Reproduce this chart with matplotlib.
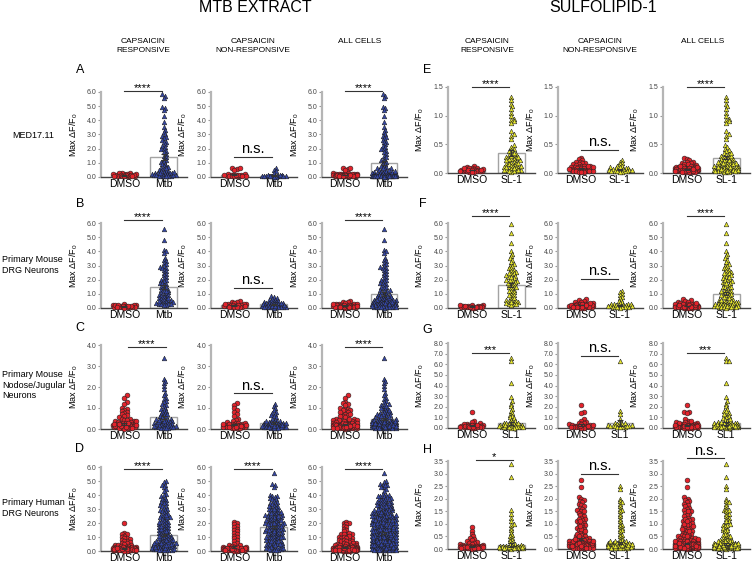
import matplotlib
matplotlib.use("Agg")
import matplotlib.pyplot as plt
import numpy as np

plt.rcParams['font.family'] = ['Liberation Sans', 'DejaVu Sans']
plt.rcParams['mathtext.fontset'] = 'custom'
plt.rcParams['mathtext.rm'] = 'Liberation Sans'
plt.rcParams['mathtext.it'] = 'Liberation Sans:italic'

# ---------------- data ----------------
# MTB extract, row A (MED17.11)
a1_dmso = [0.05, 0.08, 0.10, 0.12, 0.15, 0.18, 0.22, 0.25, 0.28, 0.30, 0.12, 0.09, 0.14, 0.06, 0.2, 0.17,
           0.11, 0.07, 0.13, 0.16, 0.04, 0.19, 0.1, 0.08]
a1_mtb = [5.85, 5.75, 5.6, 4.95, 4.85, 4.7, 4.3, 3.85, 3.5, 3.3, 3.15, 3.0, 2.9, 2.85, 2.75, 2.6, 2.5, 2.45,
          2.3, 2.2, 2.1, 2.0, 1.95, 1.85, 1.75, 1.6, 1.5, 1.4, 1.3, 1.2, 1.1, 1.05, 0.95, 0.9, 0.8, 0.75,
          0.7, 0.6, 0.55, 0.5, 0.45, 0.4, 0.35, 0.3, 0.28, 0.25, 0.22, 0.2, 0.18, 0.15, 0.12, 0.1, 0.08,
          0.06, 0.05, 0.3, 0.2, 0.15, 0.1, 0.4, 0.05, 0.12, 0.25, 0.6, 0.35]
a2_dmso = [0.6, 0.55, 0.62, 0.5, 0.2, 0.15, 0.12, 0.1, 0.08, 0.1, 0.14, 0.18, 0.06, 0.09, 0.11, 0.13, 0.07,
           0.05, 0.12, 0.1]
a2_mtb = [0.6, 0.5, 0.4, 0.3, 0.15, 0.1, 0.08, 0.06, 0.05, 0.04, 0.1, 0.12, 0.07, 0.09, 0.03, 0.05, 0.08,
          0.11, 0.06, 0.04, 0.02, 0.1]
a3_dmso = a1_dmso + a2_dmso
a3_mtb = a1_mtb + a2_mtb

# row B (primary mouse DRG)
b1_dmso = [0.25, 0.22, 0.2, 0.18, 0.15, 0.12, 0.1, 0.08, 0.06, 0.05, 0.15, 0.12, 0.1, 0.08, 0.2, 0.05, 0.03,
           0.18, 0.14, 0.09]
b1_mtb = [5.6, 4.8, 4.1, 4.0, 3.9, 3.55, 3.4, 3.3, 3.2, 3.1, 3.0, 2.9, 2.85, 2.8, 2.7, 2.6, 2.5, 2.4, 2.3,
          2.2, 2.1, 2.0, 1.95, 1.9, 1.8, 1.75, 1.7, 1.6, 1.5, 1.45, 1.4, 1.3, 1.25, 1.2, 1.1, 1.05, 1.0,
          0.95, 0.9, 0.85, 0.8, 0.75, 0.7, 0.65, 0.6, 0.55, 0.5, 0.45, 0.4, 0.38, 0.35, 0.3, 0.28, 0.25,
          0.22, 0.2, 0.5, 0.6, 0.4, 0.3, 1.2, 0.9, 0.7]
b2_dmso = [0.5, 0.45, 0.4, 0.35, 0.3, 0.28, 0.25, 0.22, 0.2, 0.18, 0.15, 0.12, 0.1, 0.08, 0.06, 0.05, 0.2,
           0.15, 0.1, 0.3, 0.12, 0.05]
b2_mtb = [0.85, 0.8, 0.72, 0.65, 0.6, 0.55, 0.5, 0.48, 0.45, 0.42, 0.4, 0.38, 0.35, 0.32, 0.3, 0.28, 0.25,
          0.22, 0.2, 0.18, 0.16, 0.15, 0.14, 0.12, 0.1, 0.09, 0.08, 0.07, 0.06, 0.05, 0.04, 0.03, 0.2,
          0.25, 0.3, 0.15, 0.1, 0.35, 0.05, 0.12]
b3_dmso = b1_dmso + b2_dmso
b3_mtb = b1_mtb + b2_mtb

# row C (primary mouse nodose/jugular)
c1_dmso = [1.6, 1.5, 1.3, 1.2, 1.0, 0.95, 0.9, 0.85, 0.8, 0.75, 0.7, 0.65, 0.6, 0.55, 0.5, 0.5, 0.45, 0.45,
           0.4, 0.4, 0.35, 0.35, 0.3, 0.3, 0.3, 0.25, 0.25, 0.25, 0.2, 0.2, 0.2, 0.2, 0.15, 0.15, 0.15,
           0.1, 0.1, 0.1, 0.1, 0.08, 0.05, 0.05, 0.05, 0.03, 0.02, 0.2, 0.3, 0.15, 0.1, 0.25, 0.4, 0.05,
           0.12, 0.18, 0.22]
c1_mtb = [3.4, 2.4, 2.3, 2.2, 2.05, 1.9, 1.7, 1.6, 1.5, 1.45, 1.35, 1.3, 1.2, 1.15, 1.1, 1.0, 0.95, 0.9,
          0.85, 0.8, 0.75, 0.7, 0.65, 0.6, 0.55, 0.5, 0.5, 0.45, 0.45, 0.4, 0.4, 0.35, 0.35, 0.3, 0.3,
          0.25, 0.25, 0.2, 0.2, 0.15, 0.15, 0.1, 0.1, 0.08, 0.05, 0.05, 0.03, 0.3, 0.4, 0.2, 0.6, 0.5,
          0.15, 0.25, 0.1, 0.7, 0.35, 0.45, 0.05, 0.12]
c2_dmso = [1.25, 1.15, 1.0, 0.9, 0.8, 0.7, 0.6, 0.5, 0.45, 0.4, 0.35, 0.3, 0.3, 0.25, 0.25, 0.2, 0.2, 0.2,
           0.15, 0.15, 0.15, 0.1, 0.1, 0.1, 0.08, 0.05, 0.05, 0.03, 0.2, 0.15, 0.1, 0.25, 0.3, 0.05, 0.12,
           0.18, 0.08, 0.22, 0.14, 0.1]
c2_mtb = [1.2, 1.1, 1.0, 0.9, 0.8, 0.75, 0.7, 0.65, 0.6, 0.55, 0.5, 0.45, 0.4, 0.4, 0.35, 0.35, 0.3, 0.3,
          0.25, 0.25, 0.25, 0.2, 0.2, 0.2, 0.15, 0.15, 0.15, 0.1, 0.1, 0.1, 0.08, 0.05, 0.05, 0.03, 0.3,
          0.2, 0.15, 0.35, 0.1, 0.25, 0.4, 0.05, 0.12, 0.18, 0.22, 0.28, 0.08, 0.14]
c3_dmso = c1_dmso + c2_dmso
c3_mtb = c1_mtb + c2_mtb

# row D (primary human DRG)
d1_dmso = [2.0, 1.3, 1.25, 1.2, 1.1, 1.0, 0.95, 0.9, 0.85, 0.8, 0.75, 0.7, 0.65, 0.6, 0.55, 0.5, 0.45, 0.4,
           0.4, 0.35, 0.35, 0.3, 0.3, 0.3, 0.25, 0.25, 0.25, 0.2, 0.2, 0.2, 0.2, 0.18, 0.15, 0.15, 0.15,
           0.12, 0.12, 0.1, 0.1, 0.1, 0.1, 0.08, 0.08, 0.06, 0.05, 0.05, 0.05, 0.04, 0.03, 0.02, 0.2,
           0.15, 0.1, 0.25, 0.3, 0.05, 0.12, 0.18, 0.08, 0.22, 0.14, 0.1, 0.06, 0.2, 0.15, 0.1, 0.3, 0.25,
           0.05, 0.12]
d1_mtb = [5.0, 4.9, 4.75, 4.7, 4.55, 4.4, 4.3, 4.1, 4.0, 3.9, 3.8, 3.75, 3.65, 3.6, 3.5, 3.45, 3.4, 3.3,
          3.25, 3.2, 3.1, 3.0, 2.95, 2.9, 2.85, 2.8, 2.7, 2.65, 2.6, 2.5, 2.45, 2.4, 2.35, 2.3, 2.2, 2.15,
          2.1, 2.05, 2.0, 1.95, 1.9, 1.85, 1.8, 1.75, 1.7, 1.65, 1.6, 1.55, 1.5, 1.45, 1.4, 1.35, 1.3,
          1.25, 1.2, 1.15, 1.1, 1.05, 1.0, 0.95, 0.9, 0.85, 0.8, 0.75, 0.7, 0.65, 0.6, 0.55, 0.5, 0.45,
          0.4, 0.35, 0.3, 0.25, 0.2, 0.15, 0.1, 0.05, 1.2, 1.0, 0.8, 0.6, 0.5, 0.4, 0.3, 0.2, 0.1, 0.9,
          0.7, 0.5, 0.3, 0.15, 0.25, 0.35, 0.45, 0.55, 0.65, 0.12, 0.08, 0.05, 0.2, 0.1, 0.3, 0.4, 0.6,
          0.8, 1.1, 1.4, 1.6, 1.8, 2.1, 2.4, 2.6]
d2_dmso = [2.1, 2.0, 1.9, 1.8, 1.7, 1.6, 1.5, 1.4, 1.3, 1.2, 1.1, 1.0, 0.9, 0.8, 0.7, 0.6, 0.5, 0.45, 0.4,
           0.35, 0.3, 0.3, 0.25, 0.25, 0.2, 0.2, 0.2, 0.15, 0.15, 0.15, 0.12, 0.1, 0.1, 0.1, 0.08, 0.06,
           0.05, 0.05, 0.04, 0.03, 0.02, 0.2, 0.15, 0.1, 0.25, 0.3, 0.05, 0.12, 0.18, 0.08, 0.22, 0.14,
           0.1, 0.06, 0.2, 0.15, 0.1, 0.3, 0.25, 0.05]
d2_mtb = [5.55, 4.8, 4.7, 4.55, 4.0, 3.95, 3.9, 3.85, 3.8, 3.75, 3.7, 3.6, 3.5, 3.45, 3.4, 3.35, 3.3, 3.2,
          3.15, 3.1, 3.05, 3.0, 2.95, 2.9, 2.85, 2.8, 2.75, 2.7, 2.65, 2.6, 2.55, 2.5, 2.45, 2.4, 2.35,
          2.3, 2.25, 2.2, 2.15, 2.1, 2.05, 2.0, 1.95, 1.9, 1.85, 1.8, 1.75, 1.7, 1.65, 1.6, 1.55, 1.5,
          1.45, 1.4, 1.35, 1.3, 1.25, 1.2, 1.15, 1.1, 1.05, 1.0, 0.95, 0.9, 0.85, 0.8, 0.75, 0.7, 0.65,
          0.6, 0.55, 0.5, 0.45, 0.4, 0.35, 0.3, 0.25, 0.2, 0.15, 0.1, 0.05, 2.8, 2.6, 2.4, 2.2, 2.0, 1.8,
          1.6, 1.4, 1.2, 1.0, 0.8, 0.6, 0.4, 0.2, 3.2, 3.0, 2.5, 2.3, 2.1, 1.9, 1.7, 1.5, 1.3, 1.1, 0.9,
          0.7, 0.5, 0.3, 0.1, 2.7, 2.2, 1.9, 1.6, 1.3, 1.0, 0.7, 0.4, 0.15, 2.5, 2.0, 1.5, 1.0, 0.5,
          0.25, 0.08]
d3_dmso = d1_dmso + d2_dmso
d3_mtb = d1_mtb + d2_mtb

# SULFOLIPID-1, row E (MED17.11)
e1_dmso = [0.12, 0.1, 0.09, 0.08, 0.07, 0.06, 0.05, 0.05, 0.04, 0.04, 0.03, 0.03, 0.02, 0.02, 0.06, 0.07,
           0.08, 0.05, 0.04, 0.03, 0.06, 0.01, 0.09, 0.05]
e1_sl1 = [1.32, 1.27, 1.2, 1.16, 1.12, 1.05, 1.0, 0.95, 0.92, 0.9, 0.87, 0.73, 0.68, 0.65, 0.6, 0.48, 0.45,
          0.42, 0.4, 0.38, 0.35, 0.33, 0.32, 0.3, 0.28, 0.27, 0.25, 0.24, 0.22, 0.2, 0.19, 0.18, 0.16,
          0.15, 0.14, 0.12, 0.11, 0.1, 0.09, 0.08, 0.07, 0.06, 0.05, 0.04, 0.03, 0.02, 0.25, 0.2, 0.15,
          0.1, 0.05, 0.3, 0.22, 0.12, 0.08, 0.18, 0.35, 0.28, 0.06, 0.03]
e2_dmso = [0.26, 0.24, 0.22, 0.2, 0.19, 0.18, 0.17, 0.16, 0.15, 0.14, 0.13, 0.12, 0.12, 0.11, 0.1, 0.1,
           0.09, 0.09, 0.08, 0.08, 0.07, 0.07, 0.06, 0.06, 0.05, 0.05, 0.05, 0.04, 0.04, 0.03, 0.03, 0.02,
           0.02, 0.01, 0.06, 0.08, 0.1, 0.13, 0.04, 0.07]
e2_sl1 = [0.23, 0.2, 0.18, 0.15, 0.13, 0.12, 0.1, 0.09, 0.08, 0.08, 0.07, 0.06, 0.06, 0.05, 0.05, 0.04,
          0.04, 0.03, 0.03, 0.02, 0.02, 0.05, 0.07, 0.1, 0.04]
e3_dmso = e1_dmso + e2_dmso
e3_sl1 = e1_sl1 + e2_sl1

# row F (primary mouse DRG)
f1_dmso = [0.2, 0.18, 0.15, 0.12, 0.1, 0.08, 0.06, 0.05, 0.04, 0.03, 0.15, 0.1, 0.08, 0.12, 0.05, 0.02,
           0.18, 0.07, 0.1, 0.14]
f1_sl1 = [5.9, 5.3, 4.6, 4.0, 3.8, 3.65, 3.5, 3.4, 3.25, 3.1, 3.0, 2.95, 2.85, 2.8, 2.7, 2.6, 2.55, 2.5,
          2.4, 2.3, 2.25, 2.2, 2.1, 2.0, 1.95, 1.9, 1.85, 1.8, 1.7, 1.65, 1.6, 1.5, 1.45, 1.4, 1.3, 1.2,
          1.1, 1.0, 0.9, 0.8, 0.7, 0.6, 0.5, 0.45, 0.4, 0.35, 0.3, 0.25, 0.2, 1.5, 2.0, 2.5, 1.2, 0.9,
          0.5, 0.3, 1.8, 2.2, 0.6, 0.4]
f2_dmso = [0.62, 0.55, 0.5, 0.45, 0.4, 0.35, 0.3, 0.28, 0.25, 0.22, 0.2, 0.18, 0.16, 0.15, 0.14, 0.12,
           0.11, 0.1, 0.09, 0.08, 0.07, 0.06, 0.05, 0.05, 0.04, 0.03, 0.02, 0.3, 0.2, 0.15, 0.1, 0.25,
           0.12, 0.08, 0.05, 0.18, 0.22, 0.35, 0.1, 0.06]
f2_sl1 = [1.2, 1.1, 1.0, 0.9, 0.8, 0.7, 0.55, 0.5, 0.4, 0.35, 0.3, 0.28, 0.25, 0.22, 0.2, 0.18, 0.15,
          0.12, 0.1, 0.08, 0.06, 0.05, 0.04, 0.03, 0.2, 0.15, 0.1, 0.3, 0.05, 0.12]
f3_dmso = f1_dmso + f2_dmso
f3_sl1 = f1_sl1 + f2_sl1

# row G (primary mouse nodose/jugular)
g1_dmso = [1.5, 0.7, 0.55, 0.45, 0.4, 0.35, 0.3, 0.28, 0.25, 0.22, 0.2, 0.18, 0.15, 0.12, 0.1, 0.1, 0.08,
           0.06, 0.05, 0.04, 0.03, 0.2, 0.15, 0.1, 0.25, 0.05, 0.12, 0.3]
g1_sl1 = [6.55, 6.3, 4.2, 2.95, 2.5, 2.3, 2.05, 1.8, 1.6, 1.4, 1.25, 1.1, 1.0, 0.9, 0.8, 0.7, 0.6, 0.55,
          0.5, 0.45, 0.4, 0.35, 0.3, 0.28, 0.25, 0.22, 0.2, 0.18, 0.15, 0.12, 0.1, 0.08, 0.06, 0.05, 0.04,
          0.03, 0.3, 0.2, 0.15, 0.1, 0.25, 0.4, 0.05, 0.12, 0.5, 0.35]
g2_dmso = [2.2, 1.55, 1.4, 0.85, 0.7, 0.6, 0.5, 0.45, 0.4, 0.35, 0.3, 0.25, 0.22, 0.2, 0.18, 0.15, 0.12,
           0.1, 0.08, 0.06, 0.05, 0.04, 0.03, 0.2, 0.15, 0.1, 0.3, 0.12]
g2_sl1 = [6.3, 1.6, 1.3, 0.85, 0.6, 0.5, 0.45, 0.4, 0.35, 0.3, 0.25, 0.2, 0.18, 0.15, 0.12, 0.1, 0.08,
          0.05, 0.3, 0.2, 0.15]
g3_dmso = g1_dmso + g2_dmso
g3_sl1 = g1_sl1 + g2_sl1

# row H (primary human DRG)
h1_dmso = [0.88, 0.72, 0.6, 0.5, 0.45, 0.4, 0.35, 0.3, 0.28, 0.25, 0.22, 0.2, 0.18, 0.15, 0.14, 0.13,
           0.12, 0.11, 0.1, 0.1, 0.09, 0.09, 0.08, 0.08, 0.07, 0.07, 0.06, 0.06, 0.05, 0.05, 0.04, 0.04,
           0.03, 0.03, 0.02, 0.02, 0.01, 0.1, 0.08, 0.05, 0.12, 0.06, 0.03, 0.09, 0.07, 0.04, 0.11, 0.05,
           0.02, 0.08]
h1_sl1 = [3.4, 2.85, 1.55, 1.4, 1.25, 1.1, 1.0, 0.95, 0.85, 0.75, 0.65, 0.55, 0.5, 0.45, 0.4, 0.35, 0.3,
          0.25, 0.2, 0.18, 0.15, 0.12, 0.1, 0.1, 0.09, 0.08, 0.08, 0.07, 0.06, 0.05, 0.05, 0.04, 0.04,
          0.03, 0.03, 0.02, 0.02, 0.01, 0.1, 0.08, 0.05, 0.12, 0.06, 0.03, 0.09, 0.07, 0.04, 0.11, 0.05,
          0.02, 0.08, 0.06]
h2_dmso = [2.75, 2.45, 2.05, 2.0, 1.95, 1.9, 1.85, 1.8, 1.75, 1.7, 1.65, 1.6, 1.55, 1.5, 1.45, 1.4, 1.35,
           1.3, 1.25, 1.2, 1.15, 1.1, 1.05, 1.0, 0.95, 0.9, 0.85, 0.8, 0.75, 0.7, 0.65, 0.6, 0.55, 0.5,
           0.5, 0.45, 0.45, 0.4, 0.4, 0.35, 0.35, 0.3, 0.3, 0.3, 0.25, 0.25, 0.25, 0.2, 0.2, 0.2, 0.2,
           0.18, 0.15, 0.15, 0.15, 0.12, 0.12, 0.1, 0.1, 0.1, 0.1, 0.08, 0.08, 0.06, 0.05, 0.05, 0.05,
           0.04, 0.03, 0.02, 0.2, 0.15, 0.1, 0.25, 0.3, 0.05, 0.12, 0.18, 0.08, 0.22, 0.14, 0.1, 0.06,
           0.2, 0.15, 0.1, 0.3, 0.25, 0.05, 0.12, 1.0, 0.8, 0.6, 0.4, 1.2, 0.9, 0.7, 0.5, 1.5, 1.1]
h2_sl1 = [2.5, 2.4, 2.0, 1.9, 1.85, 1.8, 1.7, 1.6, 1.55, 1.5, 1.4, 1.3, 1.2, 1.1, 1.0, 0.95, 0.9, 0.85,
          0.8, 0.75, 0.7, 0.6, 0.55, 0.5, 0.45, 0.4, 0.35, 0.3, 0.3, 0.25, 0.25, 0.2, 0.2, 0.2, 0.18,
          0.15, 0.15, 0.12, 0.12, 0.1, 0.1, 0.1, 0.08, 0.08, 0.06, 0.05, 0.05, 0.04, 0.03, 0.02, 0.2,
          0.15, 0.1, 0.25, 0.3, 0.05, 0.12, 0.18, 0.08, 0.22, 0.14, 0.1, 0.06, 0.2, 0.15, 0.1, 0.3, 0.25,
          0.05, 0.12]
h3_dmso = h1_dmso + h2_dmso
h3_sl1 = h1_sl1 + h2_sl1

# bar heights (mean) and SEM, per panel: (dmso, treated)
means = {
    'A1': (0.12, 1.4), 'A2': (0.15, 0.1), 'A3': (0.15, 1.0),
    'B1': (0.12, 1.48), 'B2': (0.2, 0.25), 'B3': (0.18, 1.0),
    'C1': (0.25, 0.57), 'C2': (0.22, 0.3), 'C3': (0.22, 0.47),
    'D1': (0.2, 1.15), 'D2': (0.3, 1.7), 'D3': (0.25, 1.3),
    'E1': (0.05, 0.35), 'E2': (0.08, 0.06), 'E3': (0.06, 0.27),
    'F1': (0.1, 1.65), 'F2': (0.2, 0.2), 'F3': (0.15, 1.0),
    'G1': (0.25, 0.45), 'G2': (0.3, 0.45), 'G3': (0.27, 0.45),
    'H1': (0.1, 0.15), 'H2': (0.4, 0.25), 'H3': (0.22, 0.2),
}
sems = {
    'A1': (0.02, 0.2), 'A2': (0.04, 0.03), 'A3': (0.02, 0.15),
    'B1': (0.02, 0.15), 'B2': (0.03, 0.03), 'B3': (0.03, 0.12),
    'C1': (0.04, 0.07), 'C2': (0.04, 0.04), 'C3': (0.03, 0.05),
    'D1': (0.03, 0.08), 'D2': (0.05, 0.08), 'D3': (0.03, 0.06),
    'E1': (0.005, 0.05), 'E2': (0.008, 0.01), 'E3': (0.005, 0.03),
    'F1': (0.01, 0.15), 'F2': (0.02, 0.04), 'F3': (0.01, 0.1),
    'G1': (0.05, 0.15), 'G2': (0.1, 0.3), 'G3': (0.05, 0.15),
    'H1': (0.02, 0.08), 'H2': (0.05, 0.04), 'H3': (0.03, 0.03),
}
# significance: (text, line height)
sig = {
    'A1': ('****', 6.1), 'A2': ('n.s.', 1.4), 'A3': ('****', 6.1),
    'B1': ('****', 6.2), 'B2': ('n.s.', 1.4), 'B3': ('****', 6.2),
    'C1': ('****', 3.9), 'C2': ('n.s.', 1.7), 'C3': ('****', 3.9),
    'D1': ('****', 5.85), 'D2': ('****', 5.85), 'D3': ('****', 5.85),
    'E1': ('****', 1.5), 'E2': ('n.s.', 0.4), 'E3': ('****', 1.5),
    'F1': ('****', 6.5), 'F2': ('n.s.', 2.05), 'F3': ('****', 6.5),
    'G1': ('***', 7.05), 'G2': ('n.s.', 6.8), 'G3': ('***', 7.05),
    'H1': ('*', 3.55), 'H2': ('n.s.', 3.0), 'H3': ('n.s.', 3.6),
}

RED = '#e3222b'
BLUE = '#3446a6'
YELLOW = '#e8e82c'

W, H = 753, 562
fig = plt.figure(figsize=(W / 100, H / 100), dpi=100)

col_x = [(101, 187), (211, 297), (322, 407), (448, 535), (558, 643), (663, 750)]
row_left = [(92, 177), (223, 308), (345, 429), (467, 551)]
row_right = [(87, 173), (223, 308), (343, 428), (461, 549)]


def swarm(ax, xc, vals, diam, halfw):
    # simple beeswarm: points overlap a lot vertically, spread sideways only when crowded
    vals = np.asarray(vals, float)
    order = np.argsort(vals)
    ypix = ax.transData.transform(np.column_stack([np.full(len(vals), xc), vals]))[:, 1]
    ppx = ax.transData.transform((1, 0))[0] - ax.transData.transform((0, 0))[0]
    step = diam * 0.5
    cands = [0.0]
    k = 1
    while k * step <= halfw:
        cands += [k * step, -k * step]
        k += 1
    px, py = [], []
    xs = np.zeros(len(vals))
    for i in order:
        y = ypix[i]
        best, bestd = 0.0, -1.0
        pxa, pya = np.array(px), np.array(py)
        for c in cands:
            d = np.min(np.hypot(pxa - c, pya - y)) if len(px) else 1e9
            if d >= diam:
                best = c
                break
            if d > bestd:
                best, bestd = c, d
        px.append(best)
        py.append(y)
        xs[i] = xc + best / ppx
    return xs


def panel(key, col, rows, ymax, ystep, dmso, treat, tlabel, tcolor, sig_x=(0.0, 0.95)):
    r = 'ABCDEFGH'.index(key[0]) % 4
    x0, x1 = col_x[col]
    yt, yb = rows[r]
    ax = fig.add_axes([x0 / W, 1 - yb / H, (x1 - x0) / W, (yb - yt) / H])
    ax.set_xlim(-0.6, 1.6)
    ax.set_ylim(0, ymax)
    ax.set_facecolor('none')
    for s in ['top', 'right']:
        ax.spines[s].set_visible(False)
    ax.spines['left'].set_color('#b5b5b5')
    ax.spines['left'].set_linewidth(1.6)
    ax.spines['bottom'].set_color('#444444')
    ax.spines['bottom'].set_linewidth(1.0)
    yt_vals = np.arange(0, ymax + 1e-9, ystep)
    ax.set_yticks(yt_vals)
    ax.set_yticklabels(['%.1f' % v for v in yt_vals])
    ax.tick_params(axis='y', length=2.5, width=0.8, color='#999999', labelsize=5, labelcolor='#444444', pad=1)
    ax.set_xticks([0, 1])
    ax.set_xticklabels(['DMSO', tlabel])
    ax.tick_params(axis='x', length=0, labelsize=7.5, pad=1.5)
    ax.set_ylabel('Max ΔF/F$_\\mathregular{0}$', fontsize=6.5, labelpad=0)
    ax.yaxis.set_label_coords(-0.25, 0.5)

    m = means[key]
    e = sems[key]
    ax.bar([0, 1], m, width=0.68, facecolor='white', edgecolor='#a3a3a3', linewidth=1.0, zorder=1)
    xd = swarm(ax, 0, dmso, 2.6, 12)
    ax.scatter(xd, dmso, s=12, marker='o', facecolor=RED, edgecolor='#222222', linewidth=0.4,
               zorder=3, clip_on=False)
    xt = swarm(ax, 1, treat, 2.4, 12)
    ax.scatter(xt, treat, s=11, marker='^', facecolor=tcolor, edgecolor='#222222', linewidth=0.4,
               zorder=3, clip_on=False)
    ax.errorbar([0, 1], m, yerr=e, fmt='none', ecolor='#333333', elinewidth=0.8, capsize=2.5,
                capthick=0.8, zorder=4)

    txt, ly = sig[key]
    ax.plot(sig_x, [ly, ly], color='#333333', lw=0.8, clip_on=False, zorder=5)
    mid = (sig_x[0] + sig_x[1]) / 2
    if txt == 'n.s.':
        ax.annotate(txt, (mid, ly), xytext=(0, 0.5), textcoords='offset points', ha='center',
                    va='bottom', fontsize=10.5, annotation_clip=False)
    else:
        ax.annotate(txt, (mid, ly), xytext=(0, -1.5), textcoords='offset points', ha='center',
                    va='bottom', fontsize=8, annotation_clip=False)
    return ax


# MTB extract
panel('A1', 0, row_left, 6, 1, a1_dmso, a1_mtb, 'Mtb', BLUE)
panel('A2', 1, row_left, 6, 1, a2_dmso, a2_mtb, 'Mtb', BLUE)
panel('A3', 2, row_left, 6, 1, a3_dmso, a3_mtb, 'Mtb', BLUE)
panel('B1', 0, row_left, 6, 1, b1_dmso, b1_mtb, 'Mtb', BLUE)
panel('B2', 1, row_left, 6, 1, b2_dmso, b2_mtb, 'Mtb', BLUE)
panel('B3', 2, row_left, 6, 1, b3_dmso, b3_mtb, 'Mtb', BLUE)
panel('C1', 0, row_left, 4, 1, c1_dmso, c1_mtb, 'Mtb', BLUE, sig_x=(0.1, 1.05))
panel('C2', 1, row_left, 4, 1, c2_dmso, c2_mtb, 'Mtb', BLUE)
panel('C3', 2, row_left, 4, 1, c3_dmso, c3_mtb, 'Mtb', BLUE)
panel('D1', 0, row_left, 6, 1, d1_dmso, d1_mtb, 'Mtb', BLUE)
panel('D2', 1, row_left, 6, 1, d2_dmso, d2_mtb, 'Mtb', BLUE)
panel('D3', 2, row_left, 6, 1, d3_dmso, d3_mtb, 'Mtb', BLUE)
# Sulfolipid-1
panel('E1', 3, row_right, 1.5, 0.5, e1_dmso, e1_sl1, 'SL-1', YELLOW)
panel('E2', 4, row_right, 1.5, 0.5, e2_dmso, e2_sl1, 'SL-1', YELLOW)
panel('E3', 5, row_right, 1.5, 0.5, e3_dmso, e3_sl1, 'SL-1', YELLOW)
panel('F1', 3, row_right, 6, 1, f1_dmso, f1_sl1, 'SL-1', YELLOW)
panel('F2', 4, row_right, 6, 1, f2_dmso, f2_sl1, 'SL-1', YELLOW)
panel('F3', 5, row_right, 6, 1, f3_dmso, f3_sl1, 'SL-1', YELLOW)
panel('G1', 3, row_right, 8, 1, g1_dmso, g1_sl1, 'SL1', YELLOW)
panel('G2', 4, row_right, 8, 1, g2_dmso, g2_sl1, 'SL1', YELLOW)
panel('G3', 5, row_right, 8, 1, g3_dmso, g3_sl1, 'SL1', YELLOW)
panel('H1', 3, row_right, 3.5, 0.5, h1_dmso, h1_sl1, 'SL-1', YELLOW, sig_x=(0.1, 1.05))
panel('H2', 4, row_right, 3.5, 0.5, h2_dmso, h2_sl1, 'SL-1', YELLOW)
panel('H3', 5, row_right, 3.5, 0.5, h3_dmso, h3_sl1, 'SL-1', YELLOW)


def ftext(x, y, s, **kw):
    fig.text(x / W, 1 - y / H, s, **kw)


ftext(255, 7, 'MTB EXTRACT', ha='center', va='center', fontsize=11.5)
ftext(603, 7, 'SULFOLIPID-1', ha='center', va='center', fontsize=11.5)

headers = ['CAPSAICIN\nRESPONSIVE', 'CAPSAICIN\nNON-RESPONSIVE', 'ALL CELLS']
hx = [143, 253, 360, 487, 600, 703]
for i, x in enumerate(hx):
    ftext(x, 38, headers[i % 3], ha='center', va='top', fontsize=6, linespacing=1.3)

for lab, x, y in [('A', 80, 70), ('B', 80, 204), ('C', 80, 328), ('D', 80, 449),
                  ('E', 427, 70), ('F', 423, 204), ('G', 427, 330), ('H', 427, 450)]:
    ftext(x, y, lab, ha='center', va='center', fontsize=9)

ftext(12, 135, 'MED17.11', ha='left', va='center', fontsize=6.5)
ftext(2, 265, 'Primary Mouse\nDRG Neurons', ha='left', va='center', fontsize=6.5, linespacing=1.25)
ftext(2, 385, 'Primary Mouse\nNodose/Jugular\nNeurons', ha='left', va='center', fontsize=6.5,
      linespacing=1.25)
ftext(2, 508, 'Primary Human\nDRG Neurons', ha='left', va='center', fontsize=6.5, linespacing=1.25)

fig.savefig('out.png', dpi=100)
